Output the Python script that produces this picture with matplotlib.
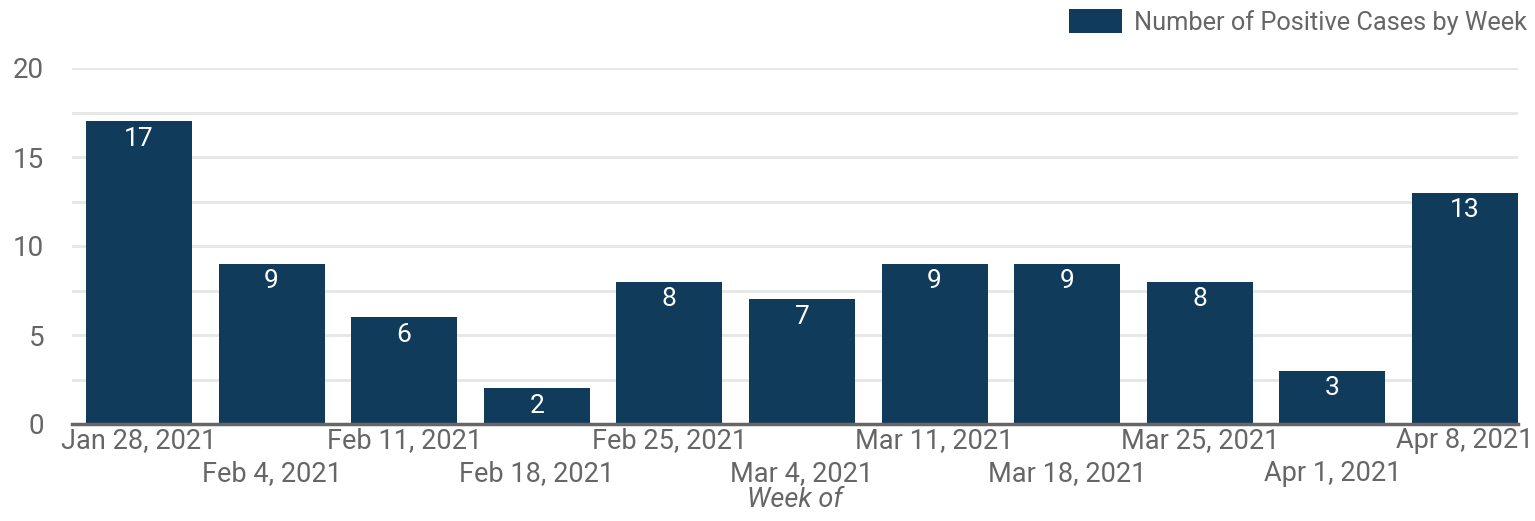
import matplotlib
matplotlib.use("Agg")
import matplotlib.pyplot as plt
from matplotlib.ticker import MultipleLocator

weeks = ["Jan 28, 2021", "Feb 4, 2021", "Feb 11, 2021", "Feb 18, 2021",
         "Feb 25, 2021", "Mar 4, 2021", "Mar 11, 2021", "Mar 18, 2021",
         "Mar 25, 2021", "Apr 1, 2021", "Apr 8, 2021"]
cases = [17, 9, 6, 2, 8, 7, 9, 9, 8, 3, 13]
series_name = "Number of Positive Cases by Week"
x_title = "Week of"

BAR = "#103b5a"
GRID = "#e6e6e6"
TEXT = "#666666"

plt.rcParams["font.family"] = ["Roboto", "DejaVu Sans"]

fig = plt.figure(figsize=(15.35, 5.21), dpi=100)
ax = fig.add_axes([72 / 1535, 1 - 424 / 521, (1518 - 72) / 1535, (424 - 68) / 521])

xs = list(range(len(weeks)))
bars = ax.bar(xs, cases, width=0.8, color=BAR, label=series_name, zorder=3)
for x, v in zip(xs, cases):
    ax.annotate(str(v), (x, v), textcoords="offset points", xytext=(0, -4),
                ha="center", va="top", color="white", fontsize=19, zorder=4)

ax.set_xlim(-0.505, 10.4)
ax.set_ylim(0, 20)
ax.yaxis.set_major_locator(MultipleLocator(5))
ax.yaxis.set_minor_locator(MultipleLocator(2.5))
ax.grid(axis="y", which="both", color=GRID, lw=2, zorder=0)
ax.set_axisbelow(True)
for s in ["top", "right", "left"]:
    ax.spines[s].set_visible(False)
ax.spines["bottom"].set_color(TEXT)
ax.spines["bottom"].set_linewidth(2.5)
ax.spines["bottom"].set_zorder(5)
ax.tick_params(axis="both", which="both", length=0)
ax.tick_params(axis="y", labelsize=20, labelcolor=TEXT, pad=20)

# staggered labels: even weeks on the first row, odd weeks on a second row
ax.set_xticks(xs[0::2], weeks[0::2])
ax.set_xticks(xs[1::2], weeks[1::2], minor=True)
ax.tick_params(axis="x", which="both", labelsize=19.5, labelcolor=TEXT)
ax.tick_params(axis="x", which="major", pad=2)
ax.tick_params(axis="x", which="minor", pad=26)
ax.set_xlabel(x_title, fontsize=19.5, color=TEXT, style="italic", labelpad=0)

fig.legend(handles=[bars], labels=[series_name], loc="upper right",
           bbox_to_anchor=(1.0095, 1.026), frameon=False, fontsize=18.3,
           handlelength=2.1, handleheight=1.05, handletextpad=0.45,
           labelcolor=TEXT)

fig.savefig("out.png", dpi=100)
